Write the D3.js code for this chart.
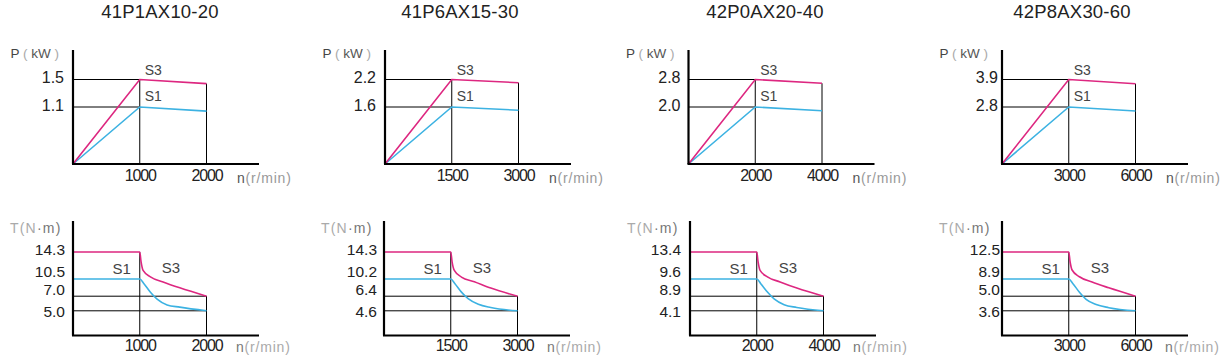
<!DOCTYPE html>
<html>
<head>
<meta charset="utf-8">
<script src="https://cdn.jsdelivr.net/npm/d3@7"></script>
<style>
  body { margin: 0; background: #fff; }
  svg { display: block; font-family: "Liberation Sans", Arial, sans-serif; }
</style>
</head>
<body>
<div id="app"></div>
<script>
// data
const models = ["41P1AX10-20", "41P6AX15-30", "42P0AX20-40", "42P8AX30-60"];
const ratedSpeed = [1000, 1500, 2000, 3000];
const maxSpeed = [2000, 3000, 4000, 6000];

// power (kW)
const powerS3 = [1.5, 2.2, 2.8, 3.9];
const powerS1 = [1.1, 1.6, 2.0, 2.8];
const powerS3End = [1.44, 2.13, 2.69, 3.73];
const powerS1End = [1.02, 1.51, 1.87, 2.6];

// torque tick labels (top to bottom)
const torqueTicks = [
  [14.3, 10.5, 7.0, 5.0],
  [14.3, 10.2, 6.4, 4.6],
  [13.4, 9.6, 8.9, 4.1],
  [12.5, 8.9, 5.0, 3.6]
];

// torque curves: speeds and values
const torqueS3Speed = [
  [0, 1000, 1020, 1050, 1160, 1350, 1600, 2000],
  [0, 1500, 1530, 1580, 1740, 2030, 2400, 3000],
  [0, 2000, 2040, 2100, 2320, 2700, 3200, 4000],
  [0, 3000, 3060, 3150, 3480, 4050, 4800, 6000]
];
const torqueS3 = [
  [14.3, 14.3, 12.9, 11.7, 10.8, 9.9, 8.7, 7.0],
  [14.3, 14.3, 12.8, 11.5, 10.5, 9.6, 8.2, 6.4],
  [13.4, 13.4, 12.0, 10.8, 9.9, 9.48, 9.23, 8.9],
  [12.5, 12.5, 11.2, 10.1, 9.2, 8.2, 6.9, 5.0]
];
const torqueS1Speed = [
  [0, 1000, 1060, 1160, 1260, 1410, 1600, 2000],
  [0, 1500, 1590, 1740, 1890, 2120, 2400, 3000],
  [0, 2000, 2120, 2320, 2520, 2820, 3200, 4000],
  [0, 3000, 3180, 3480, 3780, 4230, 4800, 6000]
];
const torqueS1 = [
  [10.5, 10.5, 9.6, 7.8, 6.6, 5.8, 5.5, 5.0],
  [10.2, 10.2, 9.2, 7.3, 6.1, 5.4, 5.0, 4.6],
  [9.6, 9.6, 9.41, 9.07, 8.0, 6.1, 5.2, 4.1],
  [8.9, 8.9, 7.9, 5.9, 4.7, 4.2, 3.9, 3.6]
];

// layout
const W = 1228, H = 363;
const magenta = "#dd2780", cyan = "#3cb2e2";
const titleX = [160, 460, 765, 1072];
const pX0 = [73, 385, 688.5, 1002];
const tX0 = [73, 384, 690, 1002];
const pGap = [9, 9, 8, 4];
const tGap = [8, 7, 9, 2];
const xSpan = 133.5, axisLen = 186;
const pOrigin = 164, pTop = 50, pLevels = [0, 57, 84.5];
const tOrigin = 335.5, tTop = 221, tLevels = [0, 24.7, 39.3, 56.5, 83.5];
const tLabelShift = [-2, -7.5, -7, 0.5];

const svg = d3.select("#app").append("svg").attr("width", W).attr("height", H);

const drawGuide = (g, line, pts) =>
  g.append("path").attr("d", line(pts)).attr("fill", "none")
    .attr("stroke", "#000").attr("stroke-width", 1);

const drawCurve = (g, line, pts, color) =>
  g.append("path").attr("d", line(pts)).attr("fill", "none")
    .attr("stroke", color).attr("stroke-width", 1.6);

const styleAxis = (g, size) => {
  g.select(".domain").remove();
  g.attr("font-family", null).attr("font-size", size);
  g.selectAll("text").attr("fill", "#222");
};

const drawFrame = (g, x0, top, origin) => {
  g.append("line").attr("x1", x0).attr("x2", x0).attr("y1", top).attr("y2", origin)
    .attr("stroke", "#000").attr("stroke-width", 2.2);
  g.append("line").attr("x1", x0 - 1).attr("x2", x0 + axisLen).attr("y1", origin).attr("y2", origin)
    .attr("stroke", "#000").attr("stroke-width", 2.2);
};

const speedTitle = (g, x, y, light) => {
  const t = g.append("text").attr("x", x).attr("y", y).attr("font-size", 14)
    .attr("letter-spacing", 0.8);
  t.append("tspan").attr("fill", light ? "#777" : "#555").text("n");
  t.append("tspan").attr("fill", light ? "#aaa" : "#999").text("(r/min)");
};

models.forEach((m, i) => {
  svg.append("text")
    .attr("x", titleX[i]).attr("y", 17.5)
    .attr("text-anchor", "middle")
    .attr("font-size", 18.5)
    .attr("letter-spacing", 0.2)
    .attr("fill", "#222")
    .text(m);

  // ---- power chart
  const gp = svg.append("g");
  const xp = d3.scaleLinear().domain([0, maxSpeed[i]]).range([pX0[i], pX0[i] + xSpan]);
  const yp = d3.scaleLinear()
    .domain([0, powerS1[i], powerS3[i]])
    .range(pLevels.map((h) => pOrigin - h));
  const lp = d3.line().x((d) => xp(d[0])).y((d) => yp(d[1]));

  drawGuide(gp, lp, [[0, powerS3[i]], [ratedSpeed[i], powerS3[i]]]);
  drawGuide(gp, lp, [[0, powerS1[i]], [ratedSpeed[i], powerS1[i]]]);
  drawGuide(gp, lp, [[ratedSpeed[i], 0], [ratedSpeed[i], powerS3[i]]]);
  drawGuide(gp, lp, [[maxSpeed[i], 0], [maxSpeed[i], powerS3End[i]]]);

  drawCurve(gp, lp, [[0, 0], [ratedSpeed[i], powerS1[i]], [maxSpeed[i], powerS1End[i]]], cyan);
  drawCurve(gp, lp, [[0, 0], [ratedSpeed[i], powerS3[i]], [maxSpeed[i], powerS3End[i]]], magenta);

  const pxAxis = gp.append("g")
    .attr("transform", `translate(0,${pOrigin})`)
    .call(d3.axisBottom(xp).tickValues([ratedSpeed[i], maxSpeed[i]]).tickSize(0).tickPadding(6)
      .tickFormat(d3.format("d")));
  styleAxis(pxAxis, 16);
  pxAxis.selectAll("text").attr("letter-spacing", -1.1);

  const pyAxis = gp.append("g")
    .attr("transform", `translate(${pX0[i]},0)`)
    .call(d3.axisLeft(yp).tickValues([powerS1[i], powerS3[i]]).tickSize(0).tickPadding(pGap[i])
      .tickFormat(d3.format(".1f")));
  styleAxis(pyAxis, 16);
  pyAxis.selectAll("text").attr("transform", "translate(0,-2)");

  drawFrame(gp, pX0[i], pTop, pOrigin);

  const pt = gp.append("text").attr("x", pX0[i] - 14).attr("y", 57.5)
    .attr("text-anchor", "end").attr("font-size", 13.5);
  pt.append("tspan").attr("fill", "#444").text("P");
  pt.append("tspan").attr("fill", "#aaa").text(" ( ");
  pt.append("tspan").attr("fill", "#555").text("kW");
  pt.append("tspan").attr("fill", "#aaa").text(" )");
  speedTitle(gp, pX0[i] + 164, pOrigin + 19, false);

  gp.append("text").attr("x", xp(ratedSpeed[i]) + 5).attr("y", yp(powerS3[i]) - 5)
    .attr("font-size", 14).attr("fill", "#444").text("S3");
  gp.append("text").attr("x", xp(ratedSpeed[i]) + 5).attr("y", yp(powerS1[i]) - 6.5)
    .attr("font-size", 14).attr("fill", "#444").text("S1");

  // ---- torque chart
  const gt = svg.append("g");
  const ticks = torqueTicks[i];
  const xt = d3.scaleLinear().domain([0, maxSpeed[i]]).range([tX0[i], tX0[i] + xSpan]);
  const yt = d3.scaleLinear()
    .domain([0].concat(ticks.slice().reverse()))
    .range(tLevels.map((h) => tOrigin - h));
  const lt = d3.line().x((d) => xt(d[0])).y((d) => yt(d[1]));
  const lc = d3.line().x((d) => xt(d[0])).y((d) => yt(d[1])).curve(d3.curveMonotoneX);

  drawGuide(gt, lt, [[0, ticks[2]], [maxSpeed[i], ticks[2]]]);
  drawGuide(gt, lt, [[0, ticks[3]], [maxSpeed[i], ticks[3]]]);
  drawGuide(gt, lt, [[ratedSpeed[i], 0], [ratedSpeed[i], ticks[0]]]);
  drawGuide(gt, lt, [[maxSpeed[i], 0], [maxSpeed[i], ticks[2]]]);

  drawCurve(gt, lc, d3.zip(torqueS1Speed[i], torqueS1[i]), cyan);
  drawCurve(gt, lc, d3.zip(torqueS3Speed[i], torqueS3[i]), magenta);

  const txAxis = gt.append("g")
    .attr("transform", `translate(0,${tOrigin})`)
    .call(d3.axisBottom(xt).tickValues([ratedSpeed[i], maxSpeed[i]]).tickSize(0).tickPadding(4)
      .tickFormat(d3.format("d")));
  styleAxis(txAxis, 16);
  txAxis.selectAll("text").attr("letter-spacing", -1.1);

  const tyAxis = gt.append("g")
    .attr("transform", `translate(${tX0[i]},0)`)
    .call(d3.axisLeft(yt).tickValues(ticks).tickSize(0).tickPadding(tGap[i])
      .tickFormat(d3.format(".1f")));
  styleAxis(tyAxis, 15.5);
  tyAxis.selectAll("text").attr("transform", (d, k) => `translate(0,${tLabelShift[k]})`);

  drawFrame(gt, tX0[i], tTop, tOrigin);

  const tt = gt.append("text").attr("x", tX0[i] - 11.5).attr("y", 233)
    .attr("text-anchor", "end").attr("font-size", 14).attr("letter-spacing", 1.2);
  tt.append("tspan").attr("fill", "#aaa").text("T(N");
  tt.append("tspan").attr("fill", "#777").text("·m)");
  speedTitle(gt, tX0[i] + 163, tOrigin + 16, true);

  gt.append("text").attr("x", xt(ratedSpeed[i]) - 9).attr("y", tOrigin - 61.5)
    .attr("text-anchor", "end").attr("font-size", 15).attr("fill", "#444").text("S1");
  gt.append("text").attr("x", xt(ratedSpeed[i]) + 22).attr("y", tOrigin - 63)
    .attr("font-size", 15).attr("fill", "#444").text("S3");
});
</script>
</body>
</html>
